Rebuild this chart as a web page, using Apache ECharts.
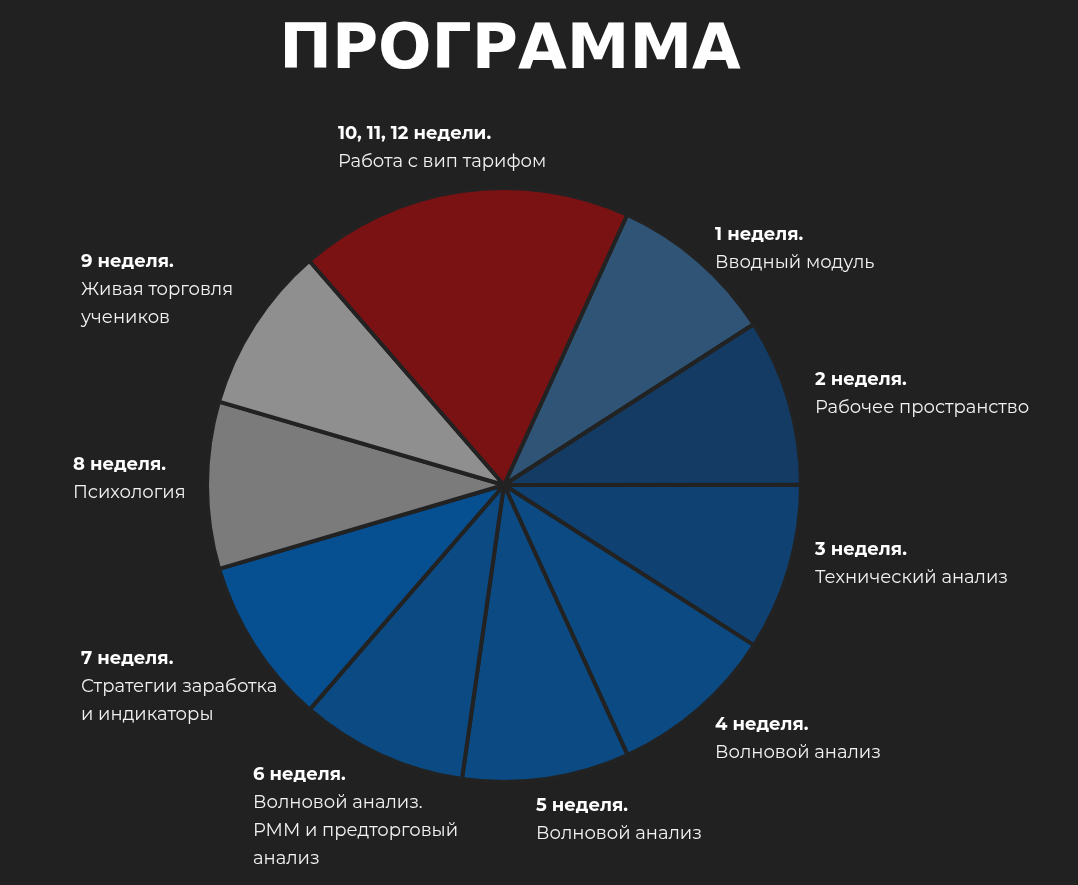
<!DOCTYPE html>
<html>
<head>
<meta charset="utf-8">
<script src="https://cdn.jsdelivr.net/npm/echarts@6/dist/echarts.min.js"></script>
<style>
  html, body { margin: 0; padding: 0; background: #212121; }
  #main { width: 1078px; height: 885px; }
</style>
</head>
<body>
<div id="main"></div>
<script>
// недели программы
var weeks = ['1 неделя.', '2 неделя.', '3 неделя.', '4 неделя.', '5 неделя.',
    '6 неделя.', '7 неделя.', '8 неделя.', '9 неделя.', '10, 11, 12 недели.'];
var topics = ['Вводный модуль', 'Рабочее пространство', 'Технический анализ',
    'Волновой анализ', 'Волновой анализ', 'Волновой анализ.\nРММ и предторговый\nанализ',
    'Стратегии заработка\nи индикаторы', 'Психология', 'Живая торговля\nучеников',
    'Работа с вип тарифом'];
// длительность в неделях
var values = [1, 1, 1, 1, 1, 1, 1, 1, 1, 2];
var colors = ['#2f5475', '#133b63', '#0f4273', '#0b4a82', '#0b4a82',
    '#0b4a82', '#064f91', '#7b7b7b', '#8f8f8f', '#7a1214'];

// где стоят подписи (левый верхний угол блока)
var labelSpots = [[715, 221], [815, 366], [815, 536], [715, 711], [536, 792],
    [253, 761], [81, 645], [73, 451], [81, 248], [338, 120]];

var font = 'Montserrat, "Noto Sans", sans-serif';

var myChart = echarts.init(document.getElementById('main'));

var pieData = values.map(function(v, i) {
    return {
        name: weeks[i],
        value: v,
        itemStyle: { color: colors[i] }
    };
});

var option = {
    backgroundColor: '#212121',
    title: {
        text: 'ПРОГРАММА',
        left: 505,
        top: 15,
        textAlign: 'center',
        textStyle: {
            color: '#ffffff',
            fontSize: 63,
            fontWeight: 900,
            fontFamily: '"DejaVu Sans", sans-serif'
        }
    },
    series: [{
        type: 'pie',
        center: [504, 485],
        radius: [0, 297],
        startAngle: 65.5,
        clockwise: true,
        silent: true,
        animation: false,
        data: pieData,
        itemStyle: {
            borderColor: '#222222',
            borderWidth: 4
        },
        labelLine: { show: false },
        label: {
            show: true,
            position: 'outside',
            formatter: function(p) {
                return '{b|' + weeks[p.dataIndex] + '}\n' +
                    topics[p.dataIndex].split('\n').map(function(s) {
                        return '{d|' + s + '}';
                    }).join('\n');
            },
            rich: {
                b: {
                    color: '#ffffff',
                    fontSize: 18,
                    fontWeight: 'bold',
                    fontFamily: font,
                    lineHeight: 28
                },
                d: {
                    color: '#f2f2f2',
                    fontSize: 18,
                    fontFamily: font,
                    lineHeight: 28
                }
            }
        },
        labelLayout: function(params) {
            var s = labelSpots[params.dataIndex];
            return {
                x: s[0],
                y: s[1],
                align: 'left',
                verticalAlign: 'top'
            };
        }
    }]
};

myChart.setOption(option);
window.onresize = function() {
    myChart.resize();
};
</script>
</body>
</html>
